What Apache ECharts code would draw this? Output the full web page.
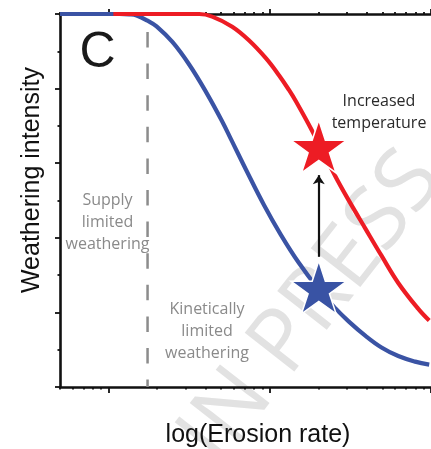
<!DOCTYPE html>
<html><head><meta charset="utf-8">
<script src="https://cdn.jsdelivr.net/npm/echarts@6/dist/echarts.min.js"></script>
<style>html,body{margin:0;padding:0;background:#fff}#c{width:431px;height:449px}</style>
</head><body><div id="c"></div>
<script>
// log10(erosion rate) and weathering intensity
const blueLogE = [-0.301,0.069,0.130,0.174,0.242,0.298,0.396,0.501,0.606,0.705,0.760,0.859,0.964,1.069,1.180,1.303,1.409,1.489,1.594,1.693,1.797,1.902,1.989];
const blueI    = [1.0,1.0,0.999,0.996,0.982,0.967,0.925,0.864,0.790,0.712,0.664,0.577,0.488,0.408,0.333,0.262,0.210,0.176,0.137,0.106,0.083,0.068,0.060];
const redLogE  = [0.03,0.563,0.643,0.767,0.872,0.977,1.057,1.118,1.162,1.260,1.409,1.489,1.594,1.693,1.797,1.920,1.989];
const redI     = [1.0,1.0,0.993,0.966,0.929,0.881,0.836,0.797,0.766,0.689,0.563,0.501,0.424,0.352,0.279,0.210,0.178];
const boundaryLogE = 0.242;          // supply / kinetic limit
const starLogE = 1.304;
const starBlueI = 0.267, starRedI = 0.645;
const arrowFromI = 0.349, arrowToI = 0.568;
const xMin = -0.30103, xMax = 2;
const majorDecades = [0, 1, 2];
const minorMult = [2,3,4,5,6,7,8,9];
const minorTicks = [];
[-1, 0, 1].forEach(d => minorMult.forEach(m => { const v = d + Math.log10(m); if (v >= xMin - 1e-6 && v <= xMax) minorTicks.push(v); }));

function starPath() {
  let p = '';
  for (let i = 0; i < 10; i++) {
    const r = i % 2 === 0 ? 100 : 38.2;
    const a = -Math.PI / 2 + i * Math.PI / 5;
    p += (i === 0 ? 'M' : 'L') + (r * Math.cos(a)).toFixed(2) + ' ' + (r * Math.sin(a)).toFixed(2);
  }
  return 'path://' + p + 'Z';
}
const STAR = starPath();

const chart = echarts.init(document.getElementById('c'), null, {renderer: 'canvas'});
const axLine = {show: true, onZero: false, lineStyle: {color: '#111', width: 2.6}};
function xAx(pos, ticks, len, showLine) {
  return {
    type: 'value', position: pos, min: xMin, max: xMax,
    axisLine: showLine ? axLine : {show: false, onZero: false},
    axisTick: {show: true, customValues: ticks, length: len, inside: false, lineStyle: {color: '#111', width: 1.8}},
    axisLabel: {show: false}, splitLine: {show: false}
  };
}
chart.setOption({
  animation: false,
  grid: {left: 60, top: 14, bottom: 62, right: -1.8},
  xAxis: [
    xAx('bottom', majorDecades, 6, true),
    xAx('bottom', minorTicks, 2.5, false),
    xAx('top', majorDecades, 5, true),
    xAx('top', minorTicks, 2, false)
  ],
  yAxis: {
    type: 'value', min: 0, max: 1, interval: 0.2,
    axisLine: axLine,
    axisTick: {show: true, length: 5, lineStyle: {color: '#111', width: 1.8}},
    minorTick: {show: true, splitNumber: 2, length: 2.5, lineStyle: {color: '#111', width: 1.8}},
    axisLabel: {show: false}, splitLine: {show: false}
  },
  graphic: [
    {type: 'text', z: -10, x: 312, y: 308, rotation: 52 * Math.PI / 180,
      style: {text: 'IN PRESS', font: '88px "Open Sans"', fill: '#e2e2e2', textAlign: 'center', textVerticalAlign: 'middle'}},
    {type: 'text', x: 97.5, y: 53, style: {text: 'C', font: '50px "Liberation Sans"', fill: '#1a1a1a', textAlign: 'center', textVerticalAlign: 'middle'}},
    {type: 'text', x: 32, y: 180, rotation: Math.PI / 2,
      style: {text: 'Weathering intensity', font: '25px "Liberation Sans"', fill: '#111', textAlign: 'center', textVerticalAlign: 'middle'}},
    {type: 'text', x: 258, y: 435, style: {text: 'log(Erosion rate)', font: '25px "Liberation Sans"', fill: '#111', textAlign: 'center', textVerticalAlign: 'middle'}},
    {type: 'text', x: 107.5, y: 222, style: {text: 'Supply\nlimited\nweathering', font: '16px "Open Sans"', lineHeight: 22, fill: '#8a8a8a', textAlign: 'center', textVerticalAlign: 'middle'}},
    {type: 'text', x: 207, y: 331, style: {text: 'Kinetically\nlimited\nweathering', font: '16px "Open Sans"', lineHeight: 22, fill: '#8a8a8a', textAlign: 'center', textVerticalAlign: 'middle'}},
    {type: 'text', x: 379, y: 112, style: {text: 'Increased\ntemperature', font: '16px "Open Sans"', lineHeight: 22, fill: '#2a2a2a', textAlign: 'center', textVerticalAlign: 'middle'}}
  ],
  series: [
    {type: 'line', data: [[boundaryLogE, 1], [boundaryLogE, 0]], symbol: 'none', clip: false,
      lineStyle: {color: '#8c8c8c', width: 2.5, type: [15.5, 16.1], dashOffset: 13.6}, z: 3},
    {type: 'line', data: blueLogE.map((x, i) => [x, blueI[i]]), symbol: 'none', smooth: 0.4, clip: false,
      lineStyle: {color: '#3a53a4', width: 4.2}, z: 4},
    {type: 'line', data: redLogE.map((x, i) => [x, redI[i]]), symbol: 'none', smooth: 0.4, clip: false,
      lineStyle: {color: '#ed1c24', width: 4.2}, z: 5},
    {type: 'lines', coordinateSystem: 'cartesian2d', z: 6,
      symbol: ['none', 'arrow'], symbolSize: [0, 9],
      lineStyle: {color: '#111', width: 2.2, opacity: 1},
      data: [{coords: [[starLogE, arrowFromI], [starLogE, arrowToI]]}]},
    {type: 'scatter', z: 7, symbol: STAR, symbolSize: [56, 53],
      data: [{value: [starLogE, starBlueI], itemStyle: {color: '#3953a4'}}, {value: [starLogE, starRedI], itemStyle: {color: '#ed1c24'}}],
      itemStyle: {borderColor: '#fff', borderWidth: 1.5, opacity: 1}}
  ]
});
</script></body></html>
